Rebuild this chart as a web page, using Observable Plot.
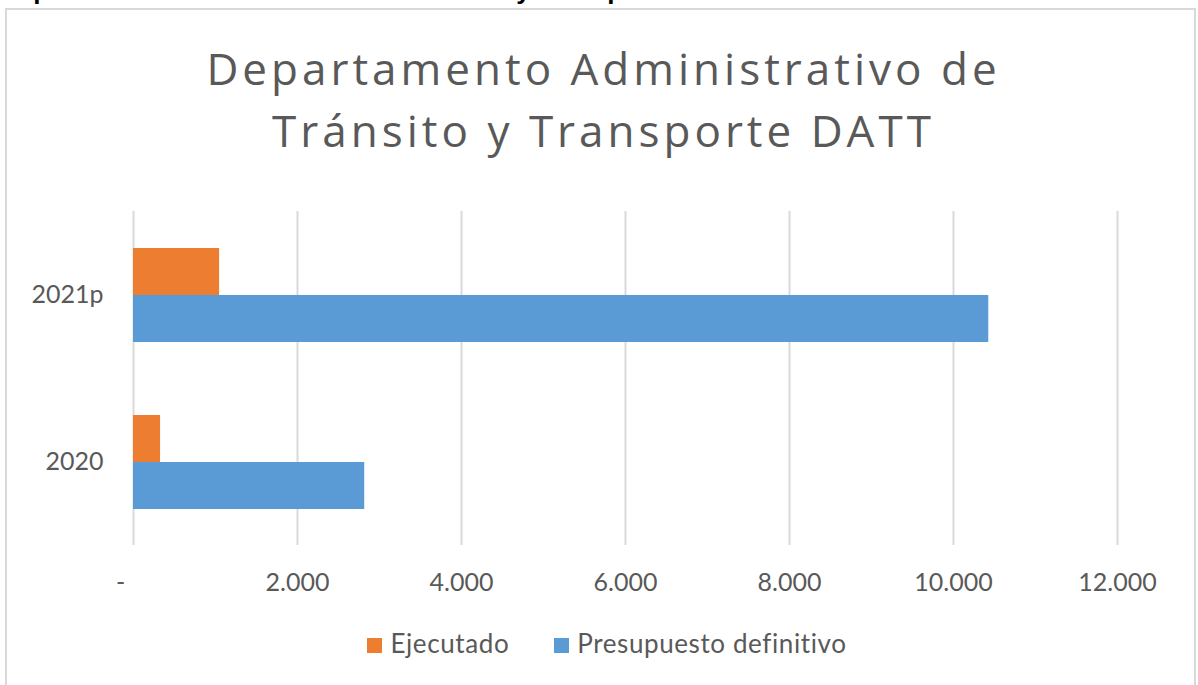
<!DOCTYPE html>
<html>
<head>
<meta charset="utf-8">
<script src="https://cdn.jsdelivr.net/npm/d3@7"></script>
<script src="https://cdn.jsdelivr.net/npm/@observablehq/plot@0.6"></script>
<style>
  html, body { margin: 0; padding: 0; background: #fff; }
  #wrap { position: relative; width: 1198px; height: 685px; overflow: hidden; background: #fff; }
  #cut { position: absolute; left: 0px; top: -23px; font: bold 26px "Liberation Sans", Arial, sans-serif; line-height: 26px; white-space: nowrap; color: #000; }
  #frame { position: absolute; left: 5px; top: 8px; width: 1187px; height: 720px; border: 2px solid #d9d9d9; }
  #title { position: absolute; left: 8px; width: 1187px; top: 37px; text-align: center; font-family: "Open Sans", sans-serif; font-weight: 400; font-size: 44px; line-height: 62px; color: #595959; letter-spacing: 4px; padding-left: 4px; box-sizing: border-box; }
  #chart { position: absolute; left: 0; top: 190px; }
  #legend { position: absolute; left: 0; width: 1198px; top: 631px; display: flex; justify-content: center; padding-left: 16px; box-sizing: border-box; font-family: Lato, sans-serif; font-size: 26px; letter-spacing: 0.6px; line-height: 25px; color: #595959; gap: 45px; }
  .item { display: flex; align-items: center; gap: 8px; }
  .sw { width: 15px; height: 15px; display: inline-block; position: relative; top: 2px; }
</style>
</head>
<body>
<div id="wrap">
  <div id="cut">Departamento Administrativo de Tránsito y Transporte</div>
  <div id="frame"></div>
  <div id="title">Departamento Administrativo de<br>Tránsito y Transporte DATT</div>
  <div id="chart"></div>
  <div id="legend"></div>
</div>
<script>
const years = ["2021p", "2020"];
const series = ["Ejecutado", "Presupuesto definitivo"];
const ejecutado = [1050, 330];
const presupuesto = [10430, 2820];
const colors = ["#ED7D31", "#5B9BD5"];
const xTicks = [0, 2000, 4000, 6000, 8000, 10000, 12000];

const data = [];
years.forEach((y, i) => {
  data.push({year: y, series: series[0], value: ejecutado[i]});
  data.push({year: y, series: series[1], value: presupuesto[i]});
});

const fmt = d3.formatLocale({decimal: ",", thousands: ".", grouping: [3], currency: ["$", ""]}).format(",");
const tickFormat = v => v === 0 ? "-\u00a0\u00a0\u00a0\u00a0" : fmt(v);

const chart = Plot.plot({
  width: 1198,
  height: 420,
  marginLeft: 133,
  marginRight: 81,
  marginTop: 20,
  marginBottom: 65,
  style: {fontFamily: "Lato, sans-serif", fontSize: "25px", color: "#595959", background: "transparent"},
  x: {domain: [0, 12000], ticks: xTicks, tickFormat, tickSize: 0, tickPadding: 28, label: null},
  fy: {domain: years, padding: 0, label: null, axis: "left", tickSize: 0, tickPadding: 30},
  y: {domain: series, paddingInner: 0, paddingOuter: 0.745, axis: null},
  color: {domain: series, range: colors},
  marks: [
    Plot.ruleX(xTicks, {stroke: "#d9d9d9", strokeWidth: 2}),
    Plot.barX(data, {x: "value", y: "series", fy: "year", fill: "series"})
  ]
});
document.getElementById("chart").appendChild(chart);

const legend = document.getElementById("legend");
series.forEach((s, i) => {
  const item = document.createElement("div");
  item.className = "item";
  const sw = document.createElement("span");
  sw.className = "sw";
  sw.style.background = colors[i];
  const t = document.createElement("span");
  t.textContent = s;
  item.appendChild(sw);
  item.appendChild(t);
  legend.appendChild(item);
});
</script>
</body>
</html>
